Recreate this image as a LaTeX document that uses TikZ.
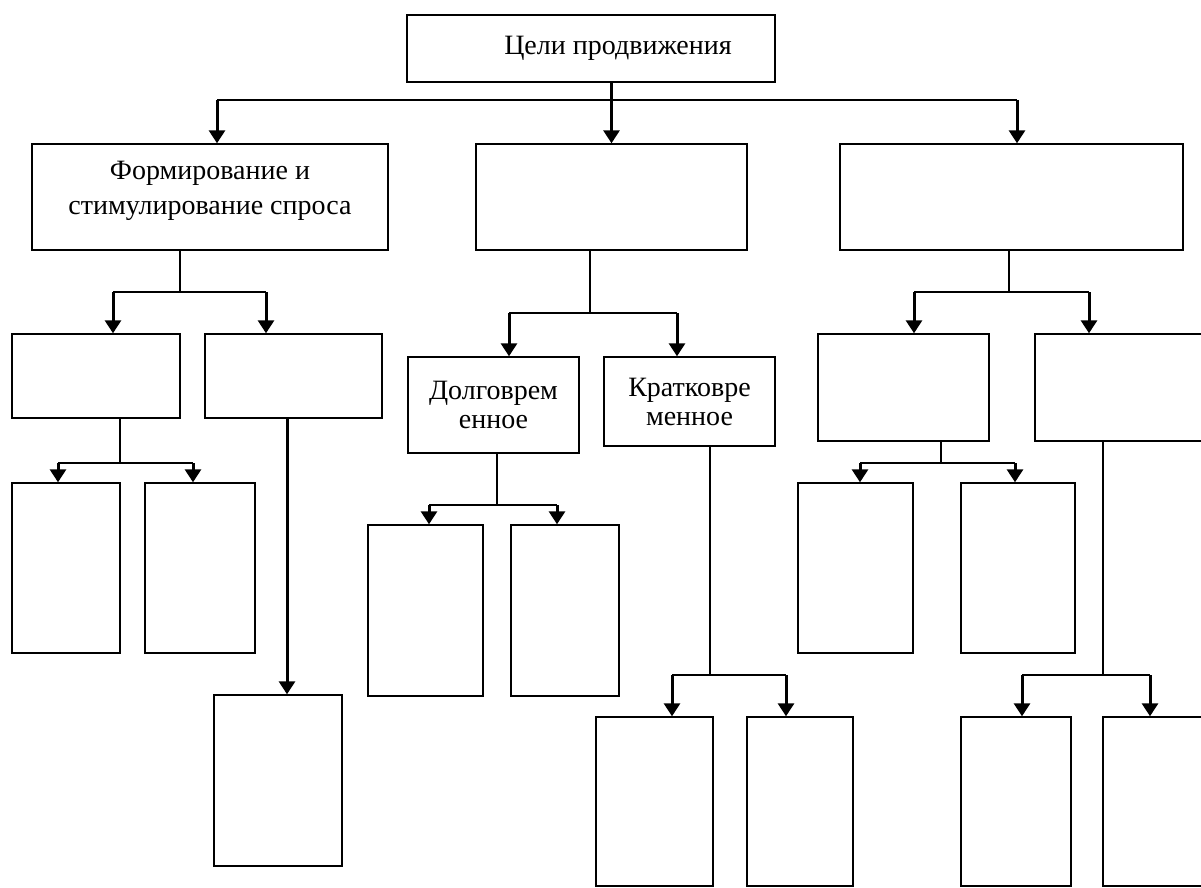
\documentclass[tikz,border=0pt]{standalone}
\usepackage{fontspec}
\setmainfont{Liberation Serif}
\usetikzlibrary{arrows.meta}

\tikzset{
  blk/.style={draw, line width=1.4pt, inner sep=0pt, align=center,
    font=\fontsize{28}{29}\selectfont},
  stem/.style={line width=1.6pt},
  arr/.style={line width=3pt, -{Triangle[width=16pt,length=13pt]}},
}

\begin{document}
\begin{tikzpicture}[x=1pt, y=-1pt]
\useasboundingbox (0,0) rectangle (1201,888);
\fill[white] (0,0) rectangle (1201,888);
\clip (0,0) rectangle (1201,888);
% top
\node[blk, minimum width=368, minimum height=67] (goal) at (591,48.5) {\hspace*{54pt}Цели продвижения};
% level 1
\node[blk, minimum width=356, minimum height=106, text depth=18pt,
  font=\fontsize{28}{35}\selectfont] (form) at (210,197) {Формирование и\\стимулирование спроса};
\node[blk, minimum width=271, minimum height=106] (mid) at (611.5,197) {};
\node[blk, minimum width=343, minimum height=106] (rgt) at (1011.5,197) {};
% level 2
\node[blk, minimum width=168, minimum height=84] (fa) at (96,376) {};
\node[blk, minimum width=177, minimum height=84] (fb) at (293.5,376) {};
\node[blk, minimum width=171, minimum height=96] (dolg) at (493.5,405) {Долговрем\\енное};
\node[blk, minimum width=171, minimum height=89] (krat) at (689.5,401.5) {Кратковре\\менное};
\node[blk, minimum width=171, minimum height=107] (ra) at (903.5,387.5) {};
\node[blk, minimum width=180, minimum height=107] (rb) at (1125,387.5) {};
% level 3
\node[blk, minimum width=108, minimum height=170] (faa) at (66,568) {};
\node[blk, minimum width=110, minimum height=170] (fab) at (200,568) {};
\node[blk, minimum width=128, minimum height=171] (fba) at (278,780.5) {};
\node[blk, minimum width=115, minimum height=171] (da) at (425.5,610.5) {};
\node[blk, minimum width=108, minimum height=171] (db) at (565,610.5) {};
\node[blk, minimum width=117, minimum height=169] (ka) at (654.5,801.5) {};
\node[blk, minimum width=106, minimum height=169] (kb) at (800,801.5) {};
\node[blk, minimum width=115, minimum height=170] (raa) at (855.5,568) {};
\node[blk, minimum width=114, minimum height=170] (rab) at (1018,568) {};
\node[blk, minimum width=110, minimum height=169] (rba) at (1016,801.5) {};
\node[blk, minimum width=112, minimum height=169] (rbb) at (1159,801.5) {};

% goal -> level 1
\coordinate (g0l) at (217,100);
\coordinate (g0r) at (1017,100);
\draw[stem] (g0l) -- (g0r);
\draw[arr] (g0l) -- (g0l |- form.north);
\draw[arr] (goal.south -| mid.north) -- (mid.north);
\draw[arr] (g0r) -- (g0r |- rgt.north);

% form
\coordinate (fj) at (180,292);
\coordinate (fjl) at (113,292);
\coordinate (fjr) at (266,292);
\draw[stem] (fj |- form.south) -- (fj);
\draw[stem] (fjl) -- (fjr);
\draw[arr] (fjl) -- (fjl |- fa.north);
\draw[arr] (fjr) -- (fjr |- fb.north);

% mid
\coordinate (mj) at (590,313);
\coordinate (mjl) at (509,313);
\coordinate (mjr) at (677,313);
\draw[stem] (mj |- mid.south) -- (mj);
\draw[stem] (mjl) -- (mjr);
\draw[arr] (mjl) -- (mjl |- dolg.north);
\draw[arr] (mjr) -- (mjr |- krat.north);

% rgt
\coordinate (rj) at (1009,292);
\coordinate (rjl) at (914,292);
\coordinate (rjr) at (1089,292);
\draw[stem] (rj |- rgt.south) -- (rj);
\draw[stem] (rjl) -- (rjr);
\draw[arr] (rjl) -- (rjl |- ra.north);
\draw[arr] (rjr) -- (rjr |- rb.north);

% fa
\coordinate (faj) at (120,463);
\coordinate (fajl) at (58,463);
\coordinate (fajr) at (193,463);
\draw[stem] (faj |- fa.south) -- (faj);
\draw[stem] (fajl) -- (fajr);
\draw[arr] (fajl) -- (fajl |- faa.north);
\draw[arr] (fajr) -- (fajr |- fab.north);

% fb
\coordinate (fbj) at (287,418);
\draw[arr] (fbj) -- (fbj |- fba.north);

% dolg
\coordinate (dj) at (497,505);
\coordinate (djl) at (429,505);
\coordinate (djr) at (557,505);
\draw[stem] (dj |- dolg.south) -- (dj);
\draw[stem] (djl) -- (djr);
\draw[arr] (djl) -- (djl |- da.north);
\draw[arr] (djr) -- (djr |- db.north);

% krat
\coordinate (kj) at (710,675);
\coordinate (kjl) at (672,675);
\coordinate (kjr) at (786,675);
\draw[stem] (kj |- krat.south) -- (kj);
\draw[stem] (kjl) -- (kjr);
\draw[arr] (kjl) -- (kjl |- ka.north);
\draw[arr] (kjr) -- (kjr |- kb.north);

% ra
\coordinate (raj) at (941,463);
\coordinate (rajl) at (860,463);
\coordinate (rajr) at (1015,463);
\draw[stem] (raj |- ra.south) -- (raj);
\draw[stem] (rajl) -- (rajr);
\draw[arr] (rajl) -- (rajl |- raa.north);
\draw[arr] (rajr) -- (rajr |- rab.north);

% rb
\coordinate (rbj) at (1103,675);
\coordinate (rbjl) at (1022,675);
\coordinate (rbjr) at (1150,675);
\draw[stem] (rbj |- rb.south) -- (rbj);
\draw[stem] (rbjl) -- (rbjr);
\draw[arr] (rbjl) -- (rbjl |- rba.north);
\draw[arr] (rbjr) -- (rbjr |- rbb.north);
\end{tikzpicture}
\end{document}
